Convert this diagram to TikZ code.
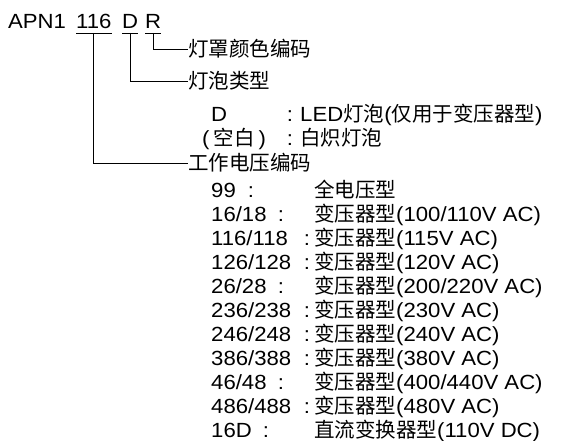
\documentclass[tikz,border=0pt]{standalone}
\usepackage{fontspec}
\setmainfont[FakeStretch=1.08]{Liberation Sans}
\newfontfamily\cjk{Noto Sans CJK SC}
\newcommand{\zhtext}[1]{{\cjk #1}}
\newcommand{\rowfont}{\fontsize{20.5}{24}\selectfont}

\tikzset{
  txt/.style={anchor=base west, inner sep=0pt, font=\rowfont},
  hdr/.style={anchor=west, inner sep=0pt, text height=17pt, text depth=1.4pt, font=\rowfont},
  colon/.style={anchor=base, inner sep=0pt, font=\rowfont},
  link/.style={line width=0.9pt}
}

\begin{document}
\begin{tikzpicture}[x=1pt, y=-1pt]
    \useasboundingbox (0,0) rectangle (563,441);

    \node[txt] (tAPN) at (8,28.5) {APN1};
    \node[txt] (t116) at (76,28.5) {116};
    \node[txt] (tD) at (122,28.5) {D};
    \node[txt] (tR) at (145,28.5) {R};

    \node[hdr] (hcolor) at (188,49) {\zhtext{灯罩颜色编码}};
    \node[hdr] (hbulb) at (188,81) {\zhtext{灯泡类型}};
    \node[hdr] (hvolt) at (188,163) {\zhtext{工作电压编码}};

    \foreach \t in {t116,tD,tR}{
        \draw[link] ([yshift=-4.5pt]\t.base west) -- ([yshift=-4.5pt]\t.base east);
        \coordinate (u\t) at ([yshift=-4.5pt]\t.base);
    }
    \draw[link] (utR) |- (hcolor.west);
    \draw[link] (utD) |- (hbulb.west);
    \draw[link] (ut116) |- (hvolt.west);

    \node[txt] (bLED) at (211,121.7) {D};
    \node[colon] (cLED) at (290,121.7) {:};
    \node[txt] (dLED) at (300,121.7) {LED\zhtext{灯泡}(\zhtext{仅用于变压器型})};
    \node[txt] (bBlank) at (202,146) {(\hspace{4pt}\zhtext{空白}\hspace{4pt})};
    \node[colon] (cBlank) at (290,146) {:};
    \node[txt] (dBlank) at (300,146) {\zhtext{白炽灯泡}};

    \foreach \num/\cx/\desc [count=\k from 0] in {
        99/251/{\zhtext{全电压型}},
        {16/18}/281/{\zhtext{变压器型}(100/110V AC)},
        {116/118}/307/{\zhtext{变压器型}(115V AC)},
        {126/128}/307/{\zhtext{变压器型}(120V AC)},
        {26/28}/281/{\zhtext{变压器型}(200/220V AC)},
        {236/238}/307/{\zhtext{变压器型}(230V AC)},
        {246/248}/307/{\zhtext{变压器型}(240V AC)},
        {386/388}/307/{\zhtext{变压器型}(380V AC)},
        {46/48}/281/{\zhtext{变压器型}(400/440V AC)},
        {486/488}/307/{\zhtext{变压器型}(480V AC)},
        16D/266/{\zhtext{直流变换器型}(110V DC)}}{
        \node[txt] (v\k) at (211,197.7+23.95*\k) {\num};
        \node[colon] (vc\k) at (\cx,197.7+23.95*\k) {:};
        \node[txt] (vd\k) at (314,197.7+23.95*\k) {\desc};
    }
\end{tikzpicture}
\end{document}
